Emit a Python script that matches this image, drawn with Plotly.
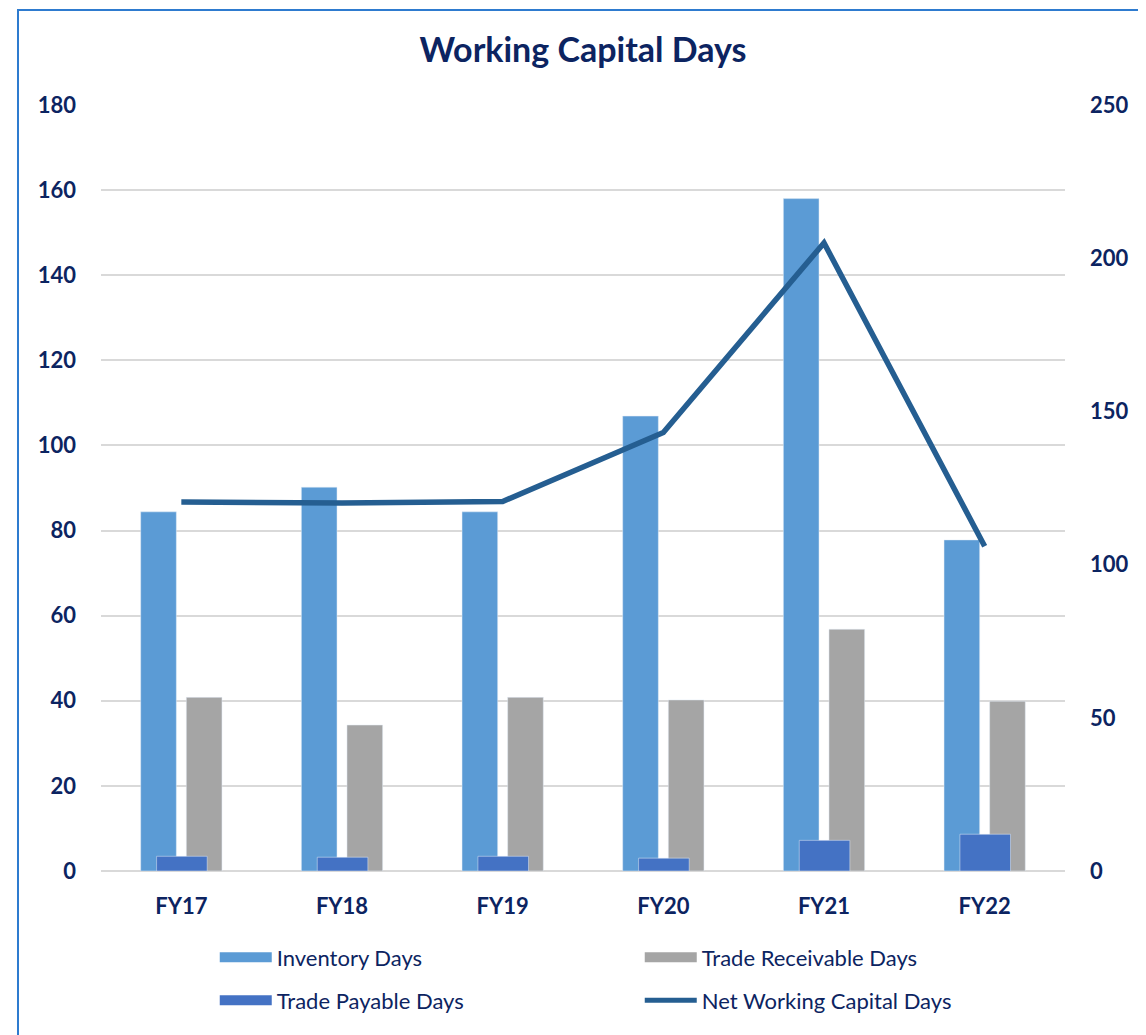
import plotly.graph_objects as go

years = ["FY17", "FY18", "FY19", "FY20", "FY21", "FY22"]
inventory_days = [84.4, 90.2, 84.4, 106.9, 158.0, 77.8]
receivable_days = [40.8, 34.3, 40.8, 40.2, 56.8, 39.9]
payable_days = [4.8, 4.5, 4.8, 4.2, 10.0, 12.0]
nwc_days = [120.4, 120.1, 120.6, 143.1, 205.0, 106.0]

navy = "#0C2461"
font_family = "Lato, 'Open Sans', sans-serif"

fig = go.Figure()

# bars (legend drawn by dummy line traces so swatches are wide)
fig.add_trace(go.Bar(x=years, y=inventory_days, name="Inventory Days", marker_color="#5B9BD5",
                     offset=-0.253, width=0.222, showlegend=False, yaxis="y"))
fig.add_trace(go.Bar(x=years, y=receivable_days, name="Trade Receivable Days", marker_color="#A5A5A5",
                     offset=0.031, width=0.222, showlegend=False, yaxis="y"))
fig.add_trace(go.Bar(x=years, y=payable_days, name="Trade Payable Days", marker_color="#4472C4",
                     offset=-0.154, width=0.315, showlegend=False, yaxis="y2"))
fig.add_trace(go.Scatter(x=years, y=nwc_days, name="Net Working Capital Days", mode="lines",
                         line=dict(color="#255E91", width=5.5), showlegend=False, yaxis="y2"))

# legend entries
legend_items = [
    ("Inventory Days", "#5B9BD5", 13, "legend"),
    ("Trade Receivable Days", "#A5A5A5", 13, "legend"),
    ("Trade Payable Days", "#4472C4", 13, "legend2"),
    ("Net Working Capital Days", "#255E91", 5, "legend2"),
]
for name, color, w, lg in legend_items:
    fig.add_trace(go.Scatter(x=[None], y=[None], name=name, mode="lines",
                             line=dict(color=color, width=w), legend=lg, yaxis="y"))

legend_style = dict(orientation="h", entrywidth=358, itemwidth=52,
                    font=dict(family=font_family, size=22, color=navy),
                    bgcolor="rgba(0,0,0,0)", xanchor="left", yanchor="middle", traceorder="normal")

tick_font = dict(family=font_family, size=22, color=navy)

fig.update_layout(
    width=1146, height=1035,
    margin=dict(l=93, r=89, t=97, b=172),
    paper_bgcolor="white", plot_bgcolor="white",
    barmode="overlay",
    title=dict(text="<b>Working Capital Days</b>", x=0.5, xref="paper", y=0.959, yanchor="middle",
               font=dict(family=font_family, size=34, color=navy)),
    font=dict(family=font_family, color=navy),
    legend=dict(x=0.118, y=-0.113, **legend_style),
    legend2=dict(x=0.118, y=-0.169, **legend_style),
    xaxis=dict(type="category", range=[-0.5, 5.5], showgrid=False, showline=False, ticks="",
               tickfont=tick_font, ticklabelstandoff=20,
               tickprefix="<b>", ticksuffix="</b>"),
    yaxis=dict(range=[0, 180], dtick=20, showgrid=True, gridcolor="#D9D9D9", gridwidth=1.5,
               zeroline=True, zerolinecolor="#D9D9D9", zerolinewidth=1.5, ticks="",
               tickfont=tick_font, ticklabelstandoff=24,
               tickprefix="<b>", ticksuffix="</b>"),
    yaxis2=dict(range=[0, 250], dtick=50, overlaying="y", side="right", showgrid=False,
                zeroline=False, ticks="",
                tickfont=tick_font, ticklabelstandoff=24,
                tickprefix="<b>", ticksuffix="</b>"),
    shapes=[dict(type="rect", xref="paper", yref="paper", x0=-0.0861, x1=1.3, y0=-0.4, y1=1.124,
                 line=dict(color="#2E7BCF", width=2), fillcolor="rgba(0,0,0,0)", layer="below")],
)

fig.write_html("out.html")
